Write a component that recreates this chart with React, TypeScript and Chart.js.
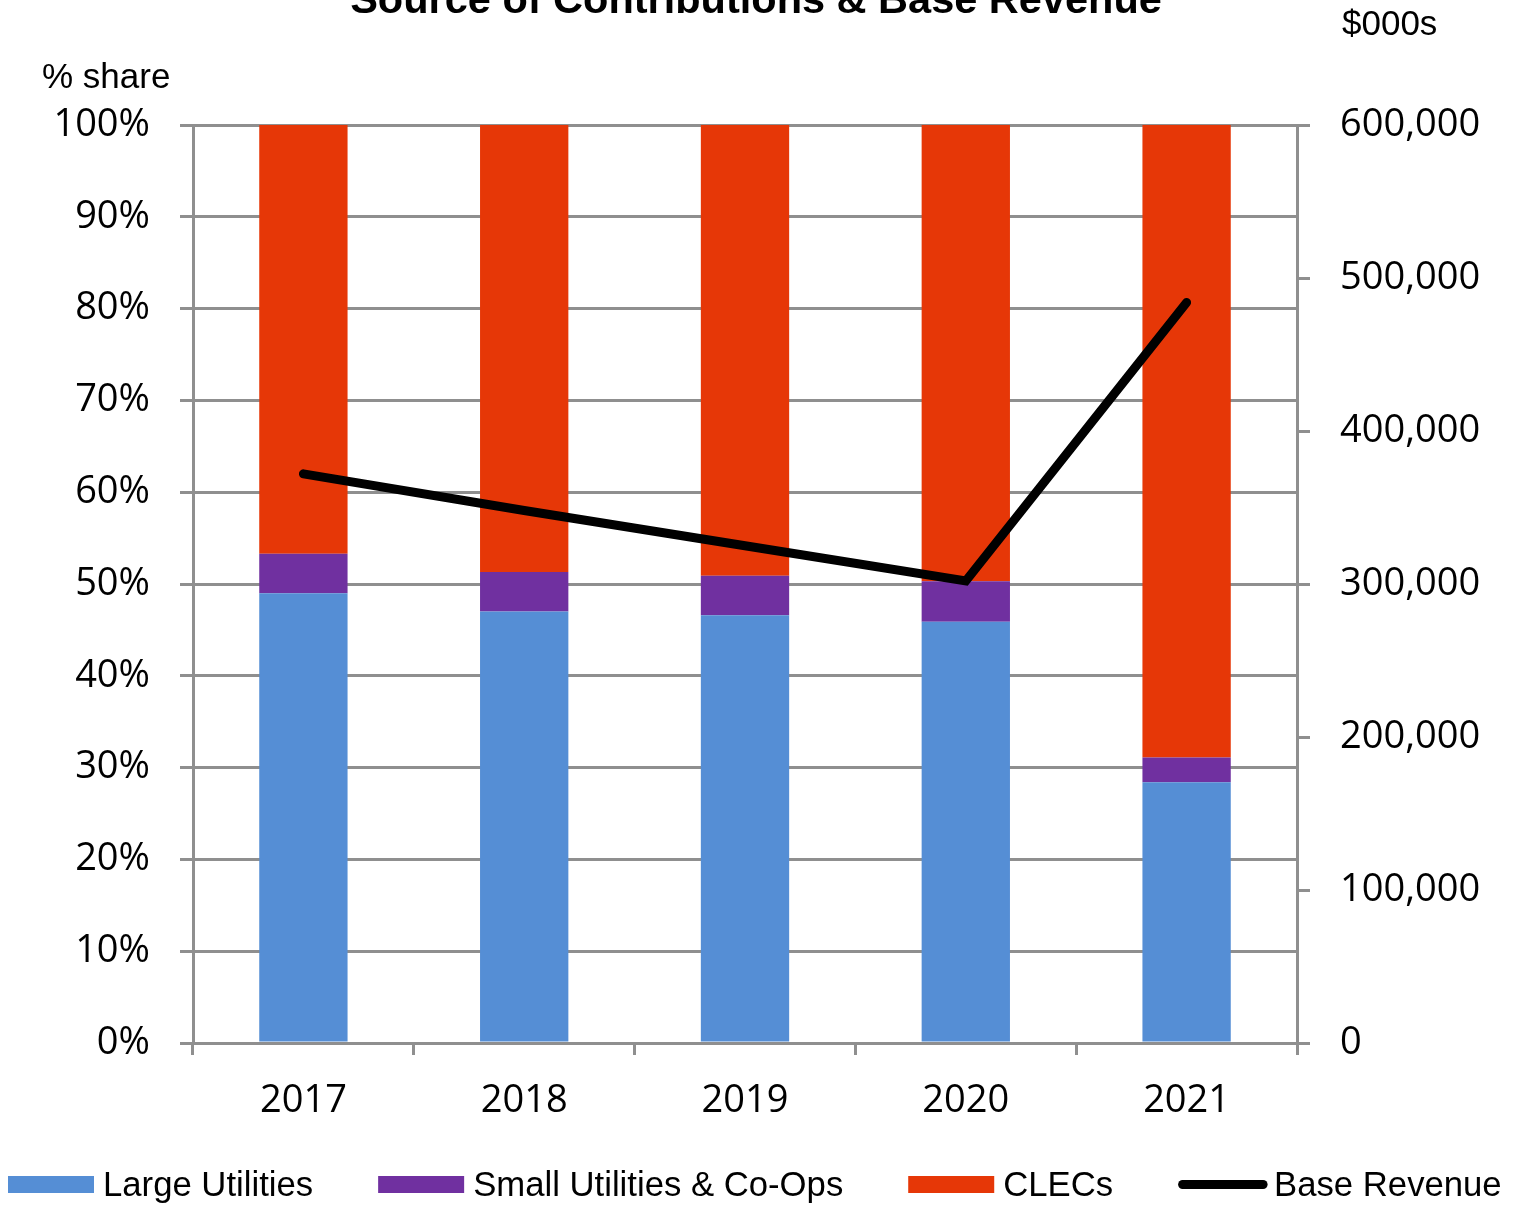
import { useEffect, useRef } from "react";
import { Chart, registerables } from "chart.js";

Chart.register(...registerables);

const years = ["2017", "2018", "2019", "2020", "2021"];
const largeUtilities = [49.0, 47.0, 46.6, 45.9, 28.4];
const smallUtilities = [4.3, 4.3, 4.3, 4.4, 2.7];
const clecs = [46.7, 48.7, 49.1, 49.7, 68.9];
const baseRevenue = [372000, 348000, 325000, 302000, 484000];

const leftTicks = [0, 10, 20, 30, 40, 50, 60, 70, 80, 90, 100];
const rightTicks = [0, 100000, 200000, 300000, 400000, 500000, 600000];

const chartTitle = "Source of Contributions & Base Revenue";
const leftAxisTitle = "% share";
const rightAxisTitle = "$000s";

const COLORS = {
  large: "#558ED5",
  small: "#7030A0",
  clecs: "#E63707",
  line: "#000000",
  grid: "#8F8F8F",
};

const ARIAL = "'Liberation Sans', Arial, sans-serif";
const TICKFONT = "'Open Sans', sans-serif";

const legendItems = [
  { label: "Large Utilities", color: COLORS.large, kind: "box" },
  { label: "Small Utilities & Co-Ops", color: COLORS.small, kind: "box" },
  { label: "CLECs", color: COLORS.clecs, kind: "box" },
  { label: "Base Revenue", color: COLORS.line, kind: "line" },
];

const decorPlugin = {
  id: "decor",
  afterDraw(chart: any) {
    const ctx = chart.ctx as CanvasRenderingContext2D;
    ctx.save();
    ctx.fillStyle = "#000";
    ctx.textBaseline = "alphabetic";
    // title (partly off the top)
    ctx.font = `bold 41.5px ${ARIAL}`;
    ctx.textAlign = "center";
    ctx.fillText(chartTitle, 756, 13);
    // axis titles
    ctx.font = `35px ${ARIAL}`;
    ctx.textAlign = "left";
    ctx.fillText(leftAxisTitle, 42, 88);
    ctx.fillText(rightAxisTitle, 1342, 35);

    // legend
    ctx.font = `34.7px ${ARIAL}`;
    let x = 8;
    const baseline = 1196;
    legendItems.forEach((it) => {
      if (it.kind === "box") {
        ctx.fillStyle = it.color;
        ctx.fillRect(x, 1176, 86, 17);
        ctx.fillStyle = "#000";
        ctx.fillText(it.label, x + 95, baseline);
        x = x + 95 + ctx.measureText(it.label).width + 65;
      } else {
        ctx.strokeStyle = it.color;
        ctx.lineWidth = 9;
        ctx.lineCap = "round";
        ctx.beginPath();
        ctx.moveTo(x + 4.5, 1184.5);
        ctx.lineTo(x + 85, 1184.5);
        ctx.stroke();
        ctx.fillStyle = "#000";
        ctx.fillText(it.label, x + 96, baseline);
      }
    });
    ctx.restore();
  },
};

export default function App() {
  const canvasRef = useRef<HTMLCanvasElement | null>(null);

  useEffect(() => {
    if (!canvasRef.current) return;
    const chart = new Chart(canvasRef.current, {
      type: "bar",
      data: {
        labels: years,
        datasets: [
          {
            type: "line",
            label: "Base Revenue",
            data: baseRevenue,
            yAxisID: "y1",
            borderColor: COLORS.line,
            backgroundColor: COLORS.line,
            borderWidth: 9,
            borderCapStyle: "round",
            borderJoinStyle: "miter",
            pointRadius: 0,
            tension: 0,
            order: 0,
          } as any,
          {
            label: "Large Utilities",
            data: largeUtilities,
            backgroundColor: COLORS.large,
            yAxisID: "y",
            order: 1,
          },
          {
            label: "Small Utilities & Co-Ops",
            data: smallUtilities,
            backgroundColor: COLORS.small,
            yAxisID: "y",
            order: 1,
          },
          {
            label: "CLECs",
            data: clecs,
            backgroundColor: COLORS.clecs,
            yAxisID: "y",
            order: 1,
          },
        ],
      },
      options: {
        responsive: true,
        maintainAspectRatio: false,
        animation: false,
        layout: { padding: { top: 125, bottom: 63, left: 0, right: 0 } },
        datasets: {
          bar: { barPercentage: 1, categoryPercentage: 0.4 },
        },
        plugins: {
          legend: { display: false },
          title: { display: false },
          tooltip: { enabled: false },
        },
        scales: {
          x: {
            stacked: true,
            offset: true,
            grid: {
              display: true,
              drawOnChartArea: false,
              drawTicks: true,
              tickLength: 12,
              tickWidth: 3,
              color: COLORS.grid,
              lineWidth: 3,
              offset: true,
            },
            border: { display: true, color: COLORS.grid, width: 3 },
            ticks: {
              color: "#000",
              font: { family: TICKFONT, size: 38 },
              padding: 23,
              maxRotation: 0,
            },
            afterFit(scale: any) {
              scale.height = 100;
            },
          },
          y: {
            stacked: true,
            position: "left",
            min: 0,
            max: 100,
            afterBuildTicks(scale: any) {
              scale.ticks = leftTicks.map((v) => ({ value: v }));
            },
            grid: {
              color: COLORS.grid,
              lineWidth: 3,
              drawTicks: true,
              tickLength: 13,
            },
            border: { display: true, color: COLORS.grid, width: 3 },
            ticks: {
              color: "#000",
              font: { family: TICKFONT, size: 38 },
              padding: 30,
              callback: (v: any) => `${v}%`,
            },
            afterFit(scale: any) {
              scale.width = 193;
            },
          },
          y1: {
            position: "right",
            min: 0,
            max: 600000,
            afterBuildTicks(scale: any) {
              scale.ticks = rightTicks.map((v) => ({ value: v }));
            },
            grid: {
              color: COLORS.grid,
              lineWidth: 3,
              drawOnChartArea: false,
              drawTicks: true,
              tickLength: 13,
            },
            border: { display: true, color: COLORS.grid, width: 3 },
            ticks: {
              color: "#000",
              font: { family: TICKFONT, size: 38 },
              padding: 30,
              callback: (v: any) => Number(v).toLocaleString("en-US"),
            },
            afterFit(scale: any) {
              scale.width = 219;
            },
          },
        },
      },
      plugins: [decorPlugin],
    });
    return () => chart.destroy();
  }, []);

  return (
    <div style={{ position: "absolute", left: 0, top: 0, width: 1516, height: 1206, background: "#fff" }}>
      <canvas ref={canvasRef} />
    </div>
  );
}
